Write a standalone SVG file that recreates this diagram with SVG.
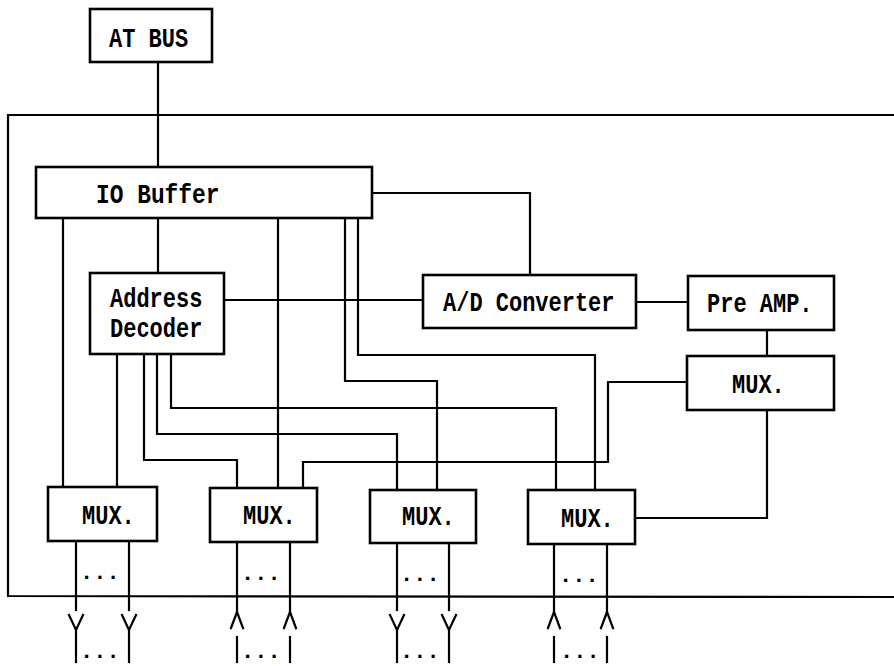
<svg xmlns="http://www.w3.org/2000/svg" width="894" height="666" viewBox="0 0 894 666">
<style>
.box{fill:#fff;stroke:#000;stroke-width:2.6}
.ln{fill:none;stroke:#000;stroke-width:2.2;stroke-linejoin:miter;stroke-linecap:square}
.t{font-family:"Liberation Mono","Courier New",monospace;font-weight:bold;font-size:22px;fill:#000}
</style>
<rect width="894" height="666" fill="#fff"/>
<g id="frame">
<polyline class="ln" points="894,115 8,115 8,596 894,597"/>
</g>
<g id="connectors">
<polyline class="ln" points="158,62 158,167"/>
<polyline class="ln" points="372,193 530,193 530,275"/>
<polyline class="ln" points="158,218 158,273"/>
<polyline class="ln" points="63,218 63,487"/>
<polyline class="ln" points="278,218 278,488"/>
<polyline class="ln" points="345,218 345,381 437,381 437,490"/>
<polyline class="ln" points="358,218 358,355 595,355 595,490"/>
<polyline class="ln" points="224,300 423,300"/>
<polyline class="ln" points="636,302 688,302"/>
<polyline class="ln" points="767,330 767,356"/>
<polyline class="ln" points="117,354 117,487"/>
<polyline class="ln" points="144,354 144,460 237,460 237,488"/>
<polyline class="ln" points="157,354 157,434 397,434 397,490"/>
<polyline class="ln" points="171,354 171,408 556,408 556,490"/>
<polyline class="ln" points="687,382 608,382 608,462 303,462 303,488"/>
<polyline class="ln" points="635,518 767,518 767,410"/>
<g id="out-mux1">
<polyline class="ln" points="76,541 76,610"/><polyline class="ln" points="69,615 76,630 83,615"/><polyline class="ln" points="76,630 76,662"/>
<polyline class="ln" points="129,541 129,610"/><polyline class="ln" points="122,615 129,630 136,615"/><polyline class="ln" points="129,630 129,662"/>
</g>
<g id="out-mux3">
<polyline class="ln" points="397,543 397,610"/><polyline class="ln" points="390,615 397,630 404,615"/><polyline class="ln" points="397,630 397,662"/>
<polyline class="ln" points="449,543 449,610"/><polyline class="ln" points="442,615 449,630 456,615"/><polyline class="ln" points="449,630 449,662"/>
</g>
<g id="out-mux2">
<polyline class="ln" points="237,542 237,612"/><polyline class="ln" points="231,628 237,612 243,628"/><polyline class="ln" points="237,637 237,662"/>
<polyline class="ln" points="290,542 290,612"/><polyline class="ln" points="284,628 290,612 296,628"/><polyline class="ln" points="290,637 290,662"/>
</g>
<g id="out-mux4">
<polyline class="ln" points="554,544 554,612"/><polyline class="ln" points="548,628 554,612 560,628"/><polyline class="ln" points="554,637 554,662"/>
<polyline class="ln" points="607,544 607,612"/><polyline class="ln" points="601,628 607,612 613,628"/><polyline class="ln" points="607,637 607,662"/>
</g>
</g>
<g id="at-bus"><rect class="box" x="90" y="9" width="122" height="53"/><text class="t" transform="translate(109,47) scale(1,1.28)">AT BUS</text></g>
<g id="io-buffer"><rect class="box" x="36" y="167" width="336" height="51"/><text class="t" transform="translate(96,203) scale(1.04,1.28)">IO Buffer</text></g>
<g id="address-decoder"><rect class="box" x="90" y="273" width="134" height="81"/><text class="t" transform="translate(110,307) scale(1,1.25)">Address</text><text class="t" transform="translate(110,337) scale(1,1.25)">Decoder</text></g>
<g id="ad-converter"><rect class="box" x="423" y="275" width="213" height="53"/><text class="t" transform="translate(443,311) scale(1,1.28)">A/D Converter</text></g>
<g id="pre-amp"><rect class="box" x="688" y="276" width="146" height="54"/><text class="t" transform="translate(707,312) scale(1,1.28)">Pre AMP.</text></g>
<g id="mux5"><rect class="box" x="687" y="356" width="147" height="54"/><text class="t" transform="translate(732,393) scale(1,1.28)">MUX.</text></g>
<g id="mux1"><rect class="box" x="48" y="487" width="109" height="54"/><text class="t" transform="translate(82,524) scale(1,1.28)">MUX.</text></g>
<g id="mux2"><rect class="box" x="210" y="488" width="107" height="54"/><text class="t" transform="translate(243,524) scale(1,1.28)">MUX.</text></g>
<g id="mux3"><rect class="box" x="370" y="490" width="106" height="53"/><text class="t" transform="translate(402,525) scale(1,1.28)">MUX.</text></g>
<g id="mux4"><rect class="box" x="528" y="490" width="107" height="54"/><text class="t" transform="translate(561,527) scale(1,1.28)">MUX.</text></g>
<g id="dots">
<text class="t" x="80" y="579">...</text><text class="t" x="80" y="658">...</text>
<text class="t" x="241" y="580">...</text><text class="t" x="241" y="658">...</text>
<text class="t" x="400" y="581">...</text><text class="t" x="400" y="658">...</text>
<text class="t" x="559" y="582">...</text><text class="t" x="560" y="658">...</text>
</g>
</svg>
